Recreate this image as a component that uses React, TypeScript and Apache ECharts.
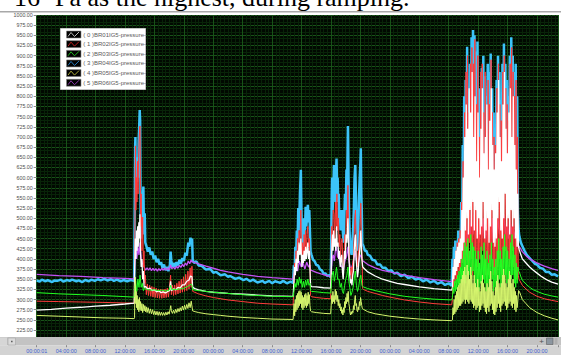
import React, { useEffect, useRef } from 'react';
import * as echarts from 'echarts';

// ---------- data (hours from start, pressure) ----------
const seriesNames = [
  '( 0 )BR01IG5-pressure-',
  '( 1 )BR02IG5-pressure-',
  '( 2 )BR03IG5-pressure-',
  '( 3 )BR04IG5-pressure-',
  '( 4 )BR05IG5-pressure-',
  '( 5 )BR06IG5-pressure-',
];
const lineColors = ['#ffffff', '#ff3c3c', '#22ff22', '#3cc4fa', '#d6f56e', '#c452f5'];
const legendColors = ['#b8b8b8', '#b82020', '#20b020', '#2878b8', '#a8a838', '#8838a8'];
const xTickLabels = ['00:00:01', '04:00:00', '08:00:00', '12:00:00', '16:00:00', '20:00:00',
  '00:00:00', '04:00:00', '08:00:00', '12:00:00', '16:00:00', '20:00:00',
  '00:00:00', '04:00:00', '08:00:00', '12:00:00', '16:00:00', '20:00:00'];
const yMin = 200;
const yMax = 1000;
const yStep = 25;
const xMax = 70.85;
const xStep = 4;

const br01White: [number, number][] = [
  [0,274],[2,276],[4,279],[6,281],[8,284],[10,286],[12,289],[13.25,291],
  [13.32,380],[13.4,450],[13.48,400],[13.56,470],[13.64,420],[13.72,480],[13.8,430],[13.88,490],[13.96,450],[14.03,510],[14.1,420],[14.2,380],[14.3,400],[14.4,350],[14.5,370],[14.6,330],
  [14.8,332],[15.1,326],[15.4,328],[15.7,322],[16,324],[16.3,319],[16.6,321],[16.9,317],[17.2,319],[17.5,316],[17.8,320],[18.05,322],[18.2,345],[18.3,322],[18.6,326],[18.9,324],[19.2,330],[19.5,328],[19.8,336],[20.1,336],[20.4,345],[20.7,348],[20.9,358],[21.1,356],
  [21.2,330],[21.5,327],[22,324],[23,320],[24,318],[26,315],[28,313],[30,311],[32,309],[34.85,308],
  [34.95,340],[35.05,380],[35.15,360],[35.25,400],[35.35,370],[35.45,420],[35.55,390],[35.65,440],[35.78,410],[35.9,450],[35.98,400],[36.06,380],[36.15,410],[36.25,390],[36.35,420],[36.45,395],[36.55,430],[36.65,400],[36.75,420],[36.85,440],[36.95,400],[37.05,420],[37.15,370],[37.22,335],
  [37.35,332],[38,331],[39,329],[39.95,328],
  [40.02,360],[40.12,430],[40.2,460],[40.28,420],[40.36,470],[40.45,430],[40.55,450],[40.65,420],[40.75,480],[40.85,430],[40.95,440],[41.05,400],[41.15,420],[41.25,380],[41.35,400],[41.45,410],[41.55,370],[41.65,350],[41.75,380],[41.85,420],[41.95,400],[42.05,460],[42.15,440],[42.3,500],[42.38,440],[42.45,400],[42.55,360],[42.65,340],[42.75,350],[42.85,335],[42.95,360],[43.05,370],[43.15,420],[43.25,450],[43.32,460],[43.42,400],[43.5,380],[43.6,355],[43.7,370],[43.8,400],[43.9,420],[44.0,450],[44.05,470],[44.12,430],[44.2,400],[44.3,381],
  [44.4,378],[45,368],[46,358],[47,350],[48,345],[49,340],[50,337],[52,331],[54,327],[56.4,323],
  [56.5,330],[56.58,380],[56.68,350],[56.78,400],[56.88,360],[56.98,420],[57.08,370],[57.18,430],[57.28,380],[57.38,440],[57.48,390],[57.58,450],[57.68,400],[57.78,520],[57.88,420],[57.98,600],[58.08,440],[58.18,700],[58.28,470],[58.38,780],[58.48,500],[58.58,720],[58.68,460],[58.78,820],[58.88,520],[58.98,760],[59.08,480],[59.18,860],[59.28,540],[59.38,700],[59.48,470],[59.58,800],[59.68,520],[59.78,640],[59.88,450],[59.98,760],[60.08,500],[60.18,600],[60.28,460],[60.38,720],[60.48,480],[60.58,820],[60.68,540],[60.78,660],[60.88,450],[60.98,700],[61.08,470],[61.18,780],[61.28,500],[61.38,620],[61.48,440],[61.58,740],[61.68,480],[61.78,820],[61.88,520],[61.98,680],[62.08,440],[62.18,620],[62.28,430],[62.38,660],[62.48,450],[62.58,760],[62.68,500],[62.78,840],[62.88,540],[62.98,700],[63.08,470],[63.18,640],[63.28,450],[63.38,780],[63.48,500],[63.58,860],[63.68,560],[63.78,720],[63.88,480],[63.98,660],[64.08,500],[64.18,760],[64.28,460],[64.38,820],[64.48,520],[64.58,700],[64.68,480],[64.78,800],[64.88,500],[64.98,680],[65.08,450],[65.18,620],[65.28,430],[65.38,560],[65.48,430],
  [65.6,422],[65.8,410],[66,400],[66.5,390],[67,380],[67.5,372],[68,365],[68.5,358],[69,352],[69.5,347],[70,343],[70.85,338],
];

const br02Red: [number, number][] = [
  [0,296],[3,295],[6,294],[9,293],[13.25,291],
  [13.32,400],[13.38,560],[13.42,678],[13.48,520],[13.55,600],[13.62,540],[13.7,640],[13.78,560],[13.85,650],[13.92,690],[14.0,725],[14.05,727],[14.12,480],[14.2,560],[14.3,420],[14.4,503],[14.5,380],[14.58,420],[14.68,340],[14.76,360],
  [14.9,312],[15.05,338],[15.2,310],[15.35,335],[15.5,308],[15.65,332],[15.8,306],[15.95,330],[16.1,305],[16.25,328],[16.4,304],[16.55,326],[16.7,303],[16.85,326],[17.0,303],[17.15,325],[17.3,304],[17.45,326],[17.6,305],[17.75,328],[17.9,306],[18.05,330],[18.2,360],[18.3,312],[18.45,335],[18.6,310],[18.75,336],[18.9,312],[19.05,340],[19.2,314],[19.35,345],[19.5,316],[19.65,350],[19.8,318],[19.95,356],[20.1,320],[20.25,362],[20.4,322],[20.55,370],[20.7,326],[20.85,378],[21.0,330],[21.1,382],
  [21.2,320],[22,314],[23,309],[24,305],[26,299],[28,295],[30,291],[32,289],[34.85,287],
  [34.95,330],[35.05,390],[35.15,360],[35.25,420],[35.35,380],[35.45,450],[35.55,400],[35.65,470],[35.78,440],[35.9,520],[35.98,430],[36.06,390],[36.15,440],[36.25,400],[36.35,460],[36.45,410],[36.55,470],[36.65,420],[36.75,460],[36.85,480],[36.95,430],[37.05,450],[37.15,390],[37.22,310],
  [37.35,307],[38,305],[39,303],[39.95,302],
  [40.02,380],[40.1,480],[40.2,430],[40.3,520],[40.4,510],[40.5,450],[40.6,540],[40.7,480],[40.8,560],[40.9,470],[41.0,500],[41.1,430],[41.2,460],[41.3,400],[41.4,440],[41.5,450],[41.6,400],[41.7,380],[41.8,420],[41.9,460],[42.0,430],[42.1,520],[42.2,480],[42.3,581],[42.38,480],[42.45,430],[42.55,380],[42.65,360],[42.75,380],[42.85,350],[42.95,390],[43.05,400],[43.15,460],[43.25,500],[43.32,520],[43.42,440],[43.5,420],[43.6,380],[43.7,400],[43.8,440],[43.9,470],[44.0,500],[44.05,537],[44.12,470],[44.2,420],[44.3,327],
  [44.4,325],[45,320],[46,315],[47,310],[48,306],[50,299],[52,294],[54,290],[56.4,287],
  [56.5,300],[56.55,360],[56.65,330],[56.75,400],[56.85,340],[56.95,420],[57.05,350],[57.15,440],[57.25,360],[57.35,450],[57.45,370],[57.55,470],[57.65,380],[57.75,540],[57.85,390],[57.95,640],[58.05,400],[58.15,760],[58.25,380],[58.35,860],[58.45,420],[58.55,900],[58.65,380],[58.75,760],[58.85,440],[58.95,880],[59.05,400],[59.15,920],[59.25,360],[59.35,880],[59.45,420],[59.55,940],[59.65,400],[59.75,780],[59.85,380],[59.95,900],[60.05,360],[60.15,700],[60.25,400],[60.35,860],[60.45,380],[60.55,880],[60.65,420],[60.75,760],[60.85,380],[60.95,860],[61.05,360],[61.15,720],[61.25,400],[61.35,840],[61.45,360],[61.55,780],[61.65,380],[61.75,890],[61.85,400],[61.95,760],[62.05,360],[62.15,700],[62.25,380],[62.35,680],[62.45,360],[62.55,820],[62.65,380],[62.75,880],[62.85,400],[62.95,780],[63.05,380],[63.15,740],[63.25,360],[63.35,860],[63.45,400],[63.55,900],[63.65,420],[63.75,820],[63.85,380],[63.95,780],[64.05,400],[64.15,740],[64.25,380],[64.35,880],[64.45,400],[64.55,920],[64.65,420],[64.75,860],[64.85,380],[64.95,800],[65.05,360],[65.15,840],[65.25,350],[65.35,700],[65.45,360],[65.55,350],
  [65.6,350],[66,335],[66.5,326],[67,318],[68,308],[69,302],[70,298],[70.85,295],
];

const br03Green: [number, number][] = [
  [0,317],[3,314],[6,312],[9,310],[13.25,306],
  [13.32,330],[13.45,345],[13.6,320],[13.75,350],[13.9,330],[14.05,360],[14.2,330],[14.35,340],[14.5,322],[14.65,328],
  [14.9,325],[15.5,323],[16,324],[16.5,322],[17,323],[17.5,321],[18.0,323],[18.2,335],[18.35,324],[19,325],[19.5,326],[20,328],[20.5,332],[21.0,338],[21.1,336],
  [21.2,324],[22,322],[23,320],[24,318],[26,315],[28,312],[30,310],[32,308],[34.85,307],
  [34.95,320],[35.1,340],[35.25,330],[35.4,350],[35.55,335],[35.7,355],[35.85,340],[35.95,350],[36.1,330],[36.25,345],[36.4,330],[36.55,348],[36.7,335],[36.85,350],[37.0,335],[37.15,340],[37.22,322],
  [37.35,320],[38,319],[39,317],[39.95,316],
  [40.02,330],[40.15,360],[40.3,370],[40.45,345],[40.6,360],[40.75,380],[40.9,350],[41.1,350],[41.25,330],[41.4,340],[41.55,320],[41.7,315],[41.85,335],[42.0,350],[42.15,360],[42.3,380],[42.42,345],[42.55,330],[42.7,310],[42.85,318],[43.0,330],[43.15,350],[43.3,370],[43.45,335],[43.6,320],[43.75,330],[43.9,350],[44.05,360],[44.2,335],[44.3,332],
  [44.4,331],[45,327],[46,322],[47,318],[48,314],[50,308],[52,304],[54,301],[56.4,299],
  [56.5,305],[56.6,330],[56.7,315],[56.8,345],[56.9,320],[57.0,350],[57.1,325],[57.2,360],[57.3,330],[57.4,370],[57.5,335],[57.6,380],[57.7,340],[57.8,400],[57.9,345],[58.0,420],[58.1,350],[58.2,440],[58.3,340],[58.4,430],[58.5,360],[58.6,450],[58.7,340],[58.8,420],[58.9,360],[59.0,460],[59.1,350],[59.2,440],[59.3,370],[59.4,430],[59.5,340],[59.6,420],[59.7,330],[59.8,400],[59.9,340],[60.0,420],[60.1,320],[60.2,390],[60.3,340],[60.4,430],[60.5,330],[60.6,410],[60.7,350],[60.8,440],[60.9,340],[61.0,400],[61.1,320],[61.2,420],[61.3,340],[61.4,390],[61.5,320],[61.6,410],[61.7,340],[61.8,440],[61.9,350],[62.0,400],[62.1,320],[62.2,380],[62.3,330],[62.4,400],[62.5,320],[62.6,420],[62.7,340],[62.8,450],[62.9,350],[63.0,420],[63.1,330],[63.2,400],[63.3,340],[63.4,430],[63.5,350],[63.6,460],[63.7,360],[63.8,430],[63.9,340],[64.0,420],[64.1,350],[64.2,400],[64.3,330],[64.4,440],[64.5,350],[64.6,460],[64.7,360],[64.8,430],[64.9,340],[65.0,410],[65.1,330],[65.2,390],[65.3,340],[65.4,380],[65.5,370],
  [65.6,368],[65.8,356],[66,348],[66.5,338],[67,330],[67.5,324],[68,320],[69,313],[70,309],[70.85,306],
];

const br04Blue: [number, number][] = [
  [0,347],[0.4,344],[0.7,349],[1.2,345],[1.5,348],[2.1,343],[2.4,347],[2.8,346],[3.3,349],[3.6,344],[4.1,348],[4.5,346],[4.8,349],[5.4,345],[5.7,347],[6.2,343],[6.6,348],[7.1,345],[7.4,349],[7.9,346],[8.3,350],[8.7,347],[9.2,351],[9.6,347],[10.1,350],[10.5,346],[10.9,349],[11.4,345],[11.8,348],[12.3,345],[12.7,348],[13.25,346],
  [13.32,520],[13.38,678],[13.42,700],[13.48,560],[13.55,634],[13.62,590],[13.7,650],[13.78,600],[13.85,690],[13.92,720],[14.0,766],[14.06,740],[14.12,520],[14.2,450],[14.3,470],[14.4,540],[14.5,578],[14.58,460],[14.68,512],[14.76,440],
  [14.9,432],[15.1,418],[15.3,428],[15.5,410],[15.7,418],[15.9,400],[16.1,408],[16.3,392],[16.5,400],[16.7,386],[16.9,392],[17.1,378],[17.3,386],[17.5,372],[17.7,380],[17.9,370],[18.1,385],[18.2,418],[18.3,395],[18.45,380],[18.6,390],[18.8,380],[19.0,392],[19.2,384],[19.4,398],[19.6,388],[19.8,402],[20.0,395],[20.2,415],[20.4,408],[20.6,440],[20.75,430],[20.9,452],[21.05,440],[21.12,450],
  [21.2,398],[21.4,390],[21.7,394],[22,384],[22.4,383],[23,374],[23.6,375],[24,366],[24.4,368],[25,360],[25.6,362],[26,356],[26.3,358],[27,351],[27.5,354],[28.1,348],[28.5,351],[29,345],[29.4,349],[30,342],[30.7,346],[31,341],[31.6,346],[32,340],[32.4,345],[33.1,341],[33.5,346],[34,340],[34.5,344],[34.85,341],
  [34.95,384],[35.05,360],[35.15,430],[35.25,400],[35.35,470],[35.45,430],[35.55,525],[35.65,470],[35.78,560],[35.9,619],[35.98,520],[36.06,448],[36.15,480],[36.25,430],[36.35,500],[36.45,460],[36.55,528],[36.65,480],[36.75,510],[36.85,533],[36.95,490],[37.05,520],[37.15,460],[37.22,418],
  [37.35,410],[37.55,398],[37.75,395],[38,385],[38.25,384],[38.5,374],[38.75,372],[39,364],[39.25,364],[39.5,358],[39.75,360],[39.95,355],
  [40.02,420],[40.1,560],[40.15,600],[40.22,520],[40.3,560],[40.4,631],[40.48,560],[40.55,590],[40.62,540],[40.68,610],[40.75,647],[40.82,580],[40.9,600],[40.98,540],[41.05,560],[41.12,500],[41.2,520],[41.3,470],[41.4,500],[41.5,520],[41.6,470],[41.7,440],[41.8,500],[41.9,560],[42.0,520],[42.1,620],[42.2,600],[42.3,727],[42.38,600],[42.45,520],[42.52,470],[42.6,430],[42.7,420],[42.8,410],[42.9,440],[43.0,470],[43.1,520],[43.2,600],[43.3,631],[43.38,560],[43.45,500],[43.52,450],[43.6,420],[43.7,470],[43.8,550],[43.9,600],[44.0,640],[44.05,672],[44.12,560],[44.18,520],[44.25,438],
  [44.4,432],[44.6,420],[44.8,420],[45,410],[45.3,408],[45.6,398],[46,396],[46.3,386],[46.7,386],[47,378],[47.4,378],[47.8,370],[48.2,372],[48.6,364],[49,366],[49.5,358],[50,361],[50.5,353],[51,356],[51.5,349],[52,352],[52.5,345],[53,349],[53.5,342],[54,346],[54.5,339],[55,343],[55.5,336],[56,340],[56.4,334],
  [56.5,400],[56.6,350],[56.7,430],[56.8,365],[56.9,445],[57.0,385],[57.1,420],[57.2,395],[57.3,470],[57.4,405],[57.5,455],[57.6,415],[57.7,540],[57.8,430],[57.9,680],[58.0,470],[58.1,800],[58.2,520],[58.3,840],[58.4,600],[58.5,922],[58.6,560],[58.7,780],[58.8,620],[58.9,880],[59.0,580],[59.1,945],[59.2,650],[59.3,963],[59.4,600],[59.5,950],[59.6,700],[59.7,910],[59.8,560],[59.9,935],[60.0,600],[60.1,820],[60.2,560],[60.3,760],[60.4,620],[60.5,870],[60.6,540],[60.7,900],[60.8,640],[60.9,850],[61.0,560],[61.1,800],[61.2,600],[61.3,880],[61.4,540],[61.5,860],[61.6,620],[61.7,905],[61.8,560],[61.9,820],[62.0,520],[62.1,760],[62.2,500],[62.3,720],[62.4,560],[62.5,840],[62.6,600],[62.7,900],[62.8,640],[62.9,860],[63.0,560],[63.1,790],[63.2,580],[63.3,880],[63.4,620],[63.5,930],[63.6,660],[63.7,880],[63.8,560],[63.9,840],[64.0,600],[64.1,800],[64.2,540],[64.3,900],[64.4,620],[64.5,945],[64.6,680],[64.7,900],[64.8,600],[64.9,860],[65.0,560],[65.1,880],[65.2,520],[65.3,800],[65.4,520],[65.5,470],
  [65.6,455],[65.8,440],[66,432],[66.3,420],[66.6,410],[67,402],[67.3,396],[67.7,388],[68,386],[68.4,378],[68.8,376],[69.2,368],[69.6,368],[70,361],[70.4,362],[70.85,357],
];

const br05Yellow: [number, number][] = [
  [0,261],[3,259],[6,257],[9,255],[12,254],[13.25,253],
  [13.3,255],[13.33,300],[13.4,355],[13.46,290],[13.52,320],[13.58,280],[13.65,310],[13.72,275],[13.8,300],[13.88,270],[13.96,305],[14.04,275],[14.12,295],[14.2,272],[14.3,290],[14.4,268],
  [14.5,288],[14.6,272],[14.7,285],[14.8,270],[14.9,282],[15.0,268],[15.15,280],[15.3,266],[15.45,277],[15.6,265],[15.75,275],[15.9,263],[16.05,272],[16.2,262],[16.35,271],[16.5,261],[16.65,270],[16.8,261],[16.95,269],[17.1,261],[17.25,268],[17.4,261],[17.55,269],[17.7,262],[17.85,270],[18.0,264],[18.15,278],[18.22,285],[18.3,272],[18.45,266],[18.6,274],[18.75,266],[18.9,276],[19.05,268],[19.2,278],[19.35,270],[19.5,280],[19.65,272],[19.8,284],[19.95,274],[20.1,286],[20.25,276],[20.4,288],[20.55,278],[20.7,292],[20.85,280],[21.0,296],[21.1,284],
  [21.2,272],[21.6,270],[22,268],[23,265],[24,263],[25,261],[26,259],[28,256],[30,254],[32,252],[34.85,251],
  [34.9,250],[34.98,290],[35.06,260],[35.14,300],[35.22,270],[35.3,310],[35.38,275],[35.46,315],[35.54,280],[35.62,320],[35.7,285],[35.78,322],[35.86,290],[35.94,318],[36.02,280],[36.1,310],[36.18,275],[36.26,305],[36.34,280],[36.42,312],[36.5,285],[36.58,315],[36.66,280],[36.74,310],[36.82,285],[36.9,318],[36.98,290],[37.06,312],[37.14,285],[37.22,272],
  [37.35,270],[38,268],[39,266],[39.95,265],
  [40.02,285],[40.1,310],[40.18,290],[40.26,320],[40.34,295],[40.42,310],[40.5,290],[40.58,325],[40.66,300],[40.74,320],[40.82,295],[40.9,310],[40.98,285],[41.06,300],[41.14,280],[41.22,290],[41.3,272],[41.38,282],[41.46,266],[41.54,275],[41.62,262],[41.7,280],[41.78,268],[41.86,295],[41.94,280],[42.02,305],[42.1,290],[42.18,315],[42.26,295],[42.34,320],[42.42,290],[42.5,282],[42.58,268],[42.66,262],[42.74,270],[42.82,264],[42.9,272],[42.98,268],[43.06,285],[43.14,275],[43.22,300],[43.3,310],[43.38,285],[43.46,290],[43.54,272],[43.62,270],[43.7,282],[43.78,275],[43.86,295],[43.94,285],[44.02,305],[44.1,295],[44.18,285],[44.25,278],
  [44.4,276],[45,270],[46,265],[47,262],[48,259],[50,255],[52,252],[54,250],[56.4,248],
  [56.5,250],[56.58,280],[56.66,262],[56.74,300],[56.82,265],[56.9,310],[56.98,270],[57.06,320],[57.14,275],[57.22,330],[57.3,280],[57.38,335],[57.46,285],[57.54,340],[57.62,285],[57.7,350],[57.78,290],[57.86,360],[57.94,295],[58.02,370],[58.1,300],[58.18,380],[58.26,290],[58.34,360],[58.42,300],[58.5,385],[58.58,295],[58.66,370],[58.74,290],[58.82,350],[58.9,300],[58.98,380],[59.06,295],[59.14,360],[59.22,290],[59.3,340],[59.38,280],[59.46,360],[59.54,285],[59.62,340],[59.7,275],[59.78,330],[59.86,280],[59.94,350],[60.02,285],[60.1,330],[60.18,270],[60.26,320],[60.34,275],[60.42,345],[60.5,285],[60.58,360],[60.66,290],[60.74,340],[60.82,280],[60.9,330],[60.98,270],[61.06,320],[61.14,265],[61.22,340],[61.3,280],[61.38,330],[61.46,270],[61.54,350],[61.62,285],[61.7,370],[61.78,290],[61.86,345],[61.94,275],[62.02,320],[62.1,265],[62.18,310],[62.26,262],[62.34,330],[62.42,270],[62.5,345],[62.58,280],[62.66,360],[62.74,290],[62.82,340],[62.9,280],[62.98,330],[63.06,270],[63.14,340],[63.22,285],[63.3,360],[63.38,290],[63.46,375],[63.54,295],[63.62,360],[63.7,285],[63.78,340],[63.86,275],[63.94,330],[64.02,280],[64.1,350],[64.18,290],[64.26,370],[64.34,295],[64.42,360],[64.5,285],[64.58,340],[64.66,280],[64.74,350],[64.82,290],[64.9,330],[64.98,275],[65.06,320],[65.14,270],[65.22,310],[65.3,280],[65.4,300],[65.5,322],
  [65.6,320],[65.8,310],[66,300],[66.5,290],[67,280],[67.5,274],[68,268],[68.5,264],[69,260],[69.5,257],[70,254],[70.85,250],
];

const br06Magenta: [number, number][] = [
  [0,362],[3,359],[6,357],[9,354],[12,352],[13.25,351],
  [13.32,380],[13.45,420],[13.6,400],[13.75,430],[13.9,410],[14.05,440],[14.2,400],[14.35,390],[14.5,385],
  [14.6,380],[14.8,372],[15.0,378],[15.2,372],[15.4,378],[15.6,371],[15.8,377],[16.0,371],[16.2,376],[16.4,370],[16.6,376],[16.8,371],[17.0,377],[17.2,372],[17.4,378],[17.6,372],[17.8,378],[18.0,373],[18.2,385],[18.35,376],[18.6,380],[18.8,375],[19.0,382],[19.2,377],[19.4,384],[19.6,379],[19.8,387],[20.0,381],[20.2,390],[20.4,384],[20.6,395],[20.8,388],[21.0,398],[21.1,392],
  [21.2,393],[22,388],[23,382],[24,377],[25,372],[26,368],[28,362],[30,357],[32,354],[34.85,350],
  [34.95,360],[35.2,380],[35.45,370],[35.7,395],[35.95,380],[36.2,390],[36.45,375],[36.7,392],[36.95,380],[37.15,385],[37.22,372],
  [37.35,372],[38,367],[39,361],[39.95,357],
  [40.02,360],[40.15,400],[40.3,410],[40.45,395],[40.6,420],[40.75,430],[40.9,405],[41.1,400],[41.3,385],[41.5,380],[41.7,375],[41.9,395],[42.1,405],[42.3,430],[42.45,395],[42.6,380],[42.8,378],[43.0,390],[43.15,405],[43.3,420],[43.45,395],[43.6,385],[43.8,395],[44.0,410],[44.15,405],[44.25,396],
  [44.4,394],[45,386],[46,378],[47,372],[48,368],[50,360],[52,354],[54,349],[56.4,344],
  [56.5,350],[56.7,380],[56.9,360],[57.1,400],[57.3,380],[57.5,420],[57.7,400],[57.9,450],[58.1,420],[58.3,480],[58.5,440],[58.7,500],[58.9,450],[59.1,520],[59.3,460],[59.5,510],[59.7,450],[59.9,500],[60.1,440],[60.3,490],[60.5,450],[60.7,500],[60.9,440],[61.1,480],[61.3,430],[61.5,490],[61.7,450],[61.9,500],[62.1,430],[62.3,470],[62.5,440],[62.7,500],[62.9,460],[63.1,490],[63.3,450],[63.5,510],[63.7,460],[63.9,490],[64.1,450],[64.3,500],[64.5,460],[64.7,490],[64.9,450],[65.1,470],[65.3,440],[65.5,432],
  [65.6,430],[65.8,424],[66,418],[66.5,408],[67,400],[67.5,395],[68,390],[68.5,386],[69,382],[69.5,379],[70,376],[70.85,372],
];

const seriesData = [br01White, br02Red, br03Green, br04Blue, br05Yellow, br06Magenta];
const seriesZ = [4, 3, 5, 1, 7, 2];
const seriesWidth = [1.3, 1, 1, 2.5, 1, 1.3];

// ---------- layout constants ----------
const W = 561;
const H = 355;
const gridLeft = 36.7;
const gridTop = 15;
const gridHeight = 325.2;

function buildOption() {
  const legendEls: any[] = [
    {
      type: 'rect', z: 30,
      shape: { x: 60.5, y: 28.5, width: 85, height: 61 },
      style: { fill: '#ffffff', stroke: '#c4c4c4', lineWidth: 1 },
    },
  ];
  seriesNames.forEach((nm, i) => {
    const cy = 34.5 + i * 9.65;
    const sx = 66.5;
    legendEls.push({
      type: 'rect', z: 31,
      shape: { x: sx, y: cy - 3.5, width: 14.5, height: 7 },
      style: { fill: '#000000', stroke: '#8a8a8a', lineWidth: 0.6 },
    });
    legendEls.push({
      type: 'polyline', z: 32,
      shape: { points: [[sx + 1.5, cy + 2], [sx + 4.5, cy - 2], [sx + 8, cy + 2], [sx + 12.5, cy - 2.5]] },
      style: { stroke: legendColors[i], lineWidth: 1, fill: null },
    });
    legendEls.push({
      type: 'text', z: 32, x: 83.3, y: cy,
      style: { text: nm, fontSize: 6, fontFamily: 'Liberation Sans', fill: '#5a5a5a', verticalAlign: 'middle', align: 'left' },
    });
  });

  const graphic: any[] = [
    {
      type: 'text', z: 40, x: 14, y: -3,
      style: { text: '16', fontSize: 26, fontFamily: 'Liberation Serif', fill: '#000', verticalAlign: 'middle', align: 'left' },
    },
    {
      type: 'text', z: 40, x: 55, y: -3,
      style: { text: 'Pa as the highest, during ramping.', fontSize: 26, fontFamily: 'Liberation Serif', fill: '#000', verticalAlign: 'middle', align: 'left' },
    },
    { type: 'rect', z: 40, shape: { x: 0, y: 11, width: W, height: 1.6 }, style: { fill: '#a8a8a8' } },
    // scrollbar and label strip
    { type: 'rect', z: 50, shape: { x: 0, y: 337, width: W, height: 8.5 }, style: { fill: '#c3c3c3' } },
    { type: 'rect', z: 50, shape: { x: 0, y: 345.5, width: W, height: 10 }, style: { fill: '#d3d3d3' } },
    { type: 'rect', z: 51, shape: { x: 0, y: 337.5, width: 7, height: 7.5 }, style: { fill: '#d6d6d6' } },
    { type: 'rect', z: 51, shape: { x: 8, y: 338, width: 7.5, height: 7 }, style: { fill: '#dadada', stroke: '#a4a4a4', lineWidth: 0.6 } },
    { type: 'rect', z: 52, shape: { x: 11, y: 340.8, width: 1.6, height: 1.4 }, style: { fill: '#606060' } },
    { type: 'text', z: 52, x: 541.5, y: 341.3, style: { text: '+', fontSize: 8, fontFamily: 'Liberation Sans', fill: '#505050', align: 'center', verticalAlign: 'middle' } },
    { type: 'rect', z: 52, shape: { x: 546.5, y: 338, width: 6.5, height: 6.5 }, style: { fill: '#8c96a0', stroke: '#606060', lineWidth: 0.6 } },
    { type: 'rect', z: 52, shape: { x: 554.5, y: 338, width: 3, height: 6.5 }, style: { fill: '#b0b0b0' } },
    ...legendEls,
  ];

  const xLabelFormatter = (v: number) => {
    const i = Math.round(v / xStep);
    if (Math.abs(v - i * xStep) > 0.01) return '';
    return xTickLabels[i] ?? '';
  };

  return {
    animation: false,
    backgroundColor: '#ffffff',
    grid: {
      left: gridLeft, right: 0, top: gridTop, height: gridHeight,
      show: true, backgroundColor: '#010901', borderWidth: 0,
    },
    xAxis: [
      {
        type: 'value', min: 0, max: xMax, interval: xStep,
        axisLine: { show: false }, axisTick: { show: false }, axisLabel: { show: false },
        splitLine: { show: true, lineStyle: { color: '#185218', width: 1 } },
        minorTick: { show: false, splitNumber: 8 },
        minorSplitLine: { show: true, lineStyle: { color: '#082408', width: 1 } },
      },
      {
        type: 'value', min: 0, max: xMax, interval: xStep, position: 'bottom', offset: 5, z: 60,
        axisLine: { show: false },
        axisTick: { show: true, length: 2, lineStyle: { color: '#8a8a8a', width: 1 } },
        axisLabel: { show: true, margin: 3.2, fontSize: 5.4, fontFamily: 'Liberation Sans', color: '#3f5fd2', formatter: xLabelFormatter },
        splitLine: { show: false },
      },
    ],
    yAxis: {
      type: 'value', min: yMin, max: yMax, interval: yStep,
      axisLine: { show: false },
      axisTick: { show: true, length: 3, lineStyle: { color: '#8c8c8c', width: 1 } },
      axisLabel: {
        margin: 4, fontSize: 5.3, fontFamily: 'Liberation Sans', color: '#4e4e4e',
        formatter: (v: number) => (v === yMin ? '' : v.toFixed(2)),
      },
      splitLine: { show: true, lineStyle: { color: '#185218', width: 1 } },
      minorTick: { show: false, splitNumber: 3 },
      minorSplitLine: { show: true, lineStyle: { color: '#082408', width: 1 } },
    },
    graphic,
    series: seriesData.map((d, i) => ({
      type: 'line',
      name: seriesNames[i],
      data: d,
      xAxisIndex: 0,
      yAxisIndex: 0,
      symbol: 'none',
      showSymbol: false,
      silent: true,
      z: seriesZ[i],
      lineStyle: { color: lineColors[i], width: seriesWidth[i] },
      itemStyle: { color: lineColors[i] },
    })),
  };
}

export default function App() {
  const ref = useRef<HTMLDivElement>(null);
  useEffect(() => {
    if (!ref.current) return;
    const chart = echarts.init(ref.current, null, { renderer: 'svg' });
    chart.setOption(buildOption() as any);
    return () => chart.dispose();
  }, []);
  return (
    <div
      ref={ref}
      style={{ position: 'fixed', left: 0, top: 0, width: W, height: H, background: '#ffffff' }}
    />
  );
}
